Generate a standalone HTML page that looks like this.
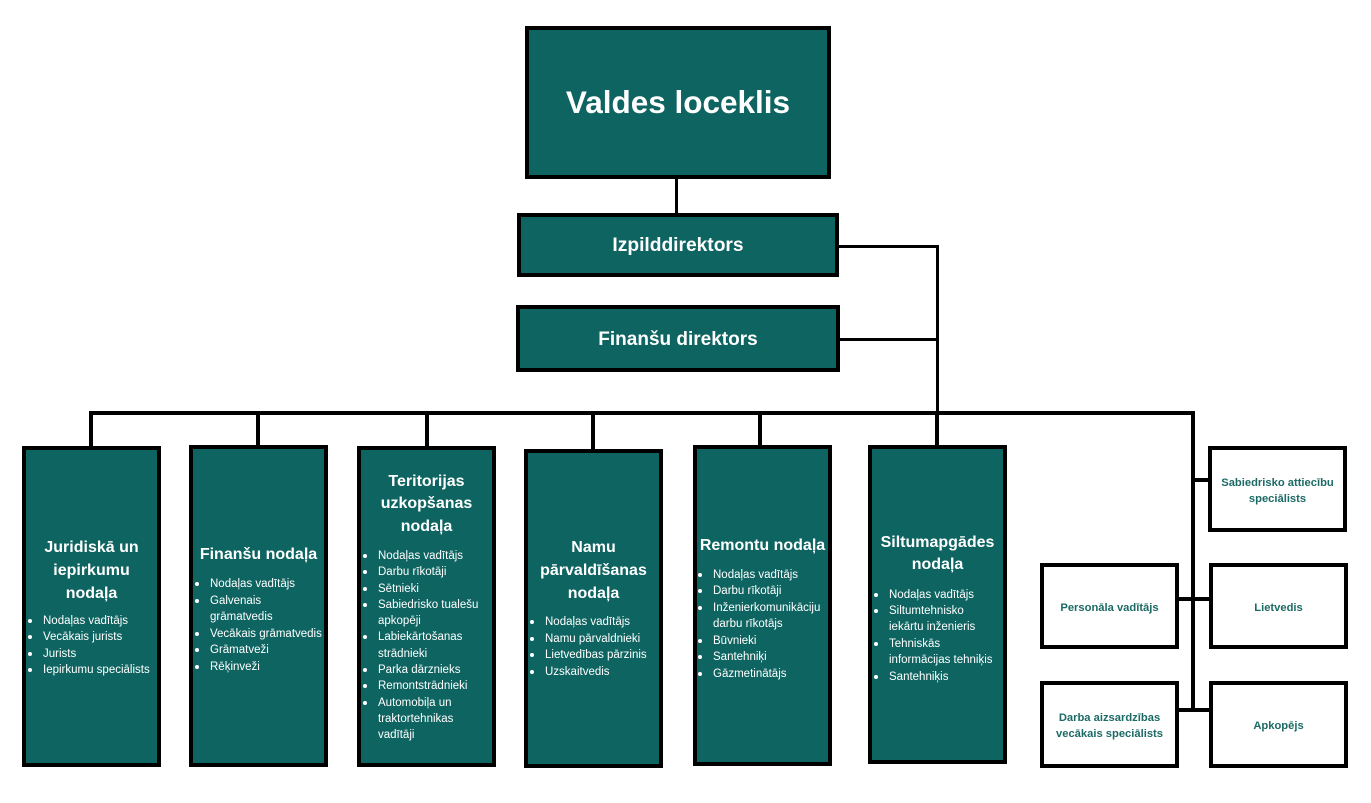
<!DOCTYPE html>
<html><head><meta charset="utf-8">
<style>
html,body{margin:0;padding:0;background:#fff;}
body{width:1371px;height:803px;position:relative;overflow:hidden;font-family:"Liberation Sans",Arial,sans-serif;}
.box{position:absolute;box-sizing:border-box;border:4px solid #000;background:#0e6461;}
.ln{position:absolute;background:#000;}
.ctr{display:flex;align-items:center;justify-content:center;text-align:center;color:#fff;font-weight:bold;white-space:nowrap;}
.t{position:absolute;left:0;right:0;text-align:center;color:#fff;font-weight:bold;font-size:16px;white-space:nowrap;}
.ul{position:absolute;left:0;right:0;color:#fff;font-size:11.5px;white-space:nowrap;}
.li{position:relative;padding-left:17px;}
.li::before{content:"";position:absolute;left:1.5px;top:6px;width:4px;height:4px;border-radius:50%;background:#fff;}
.wb{position:absolute;box-sizing:border-box;border:4px solid #000;background:#fff;display:flex;align-items:center;justify-content:center;text-align:center;color:#1c6a65;font-weight:bold;font-size:11.2px;line-height:16px;padding-top:3px;white-space:nowrap;}
</style></head><body>

<!-- connectors -->
<div class="ln" style="left:675px;top:178px;width:3px;height:37px;"></div>
<div class="ln" style="left:838px;top:245px;width:101px;height:3px;"></div>
<div class="ln" style="left:839px;top:338px;width:100px;height:3px;"></div>
<div class="ln" style="left:936px;top:245px;width:3px;height:170px;"></div>
<div class="ln" style="left:89px;top:411px;width:1106px;height:4px;"></div>
<div class="ln" style="left:89px;top:411px;width:4px;height:37px;"></div>
<div class="ln" style="left:256px;top:411px;width:4px;height:37px;"></div>
<div class="ln" style="left:425px;top:411px;width:4px;height:37px;"></div>
<div class="ln" style="left:591px;top:411px;width:4px;height:40px;"></div>
<div class="ln" style="left:758px;top:411px;width:4px;height:37px;"></div>
<div class="ln" style="left:935px;top:411px;width:4px;height:37px;"></div>
<div class="ln" style="left:1191px;top:411px;width:4px;height:301px;"></div>
<div class="ln" style="left:1193px;top:478px;width:17px;height:4px;"></div>
<div class="ln" style="left:1177px;top:597px;width:34px;height:4px;"></div>
<div class="ln" style="left:1177px;top:708px;width:34px;height:4px;"></div>

<!-- top boxes -->
<div class="box ctr" style="left:525px;top:26px;width:306px;height:153px;font-size:31.5px;">Valdes loceklis</div>
<div class="box ctr" style="left:517px;top:213px;width:322px;height:64px;font-size:19.2px;padding-top:2px;">Izpilddirektors</div>
<div class="box ctr" style="left:516px;top:305px;width:324px;height:67px;font-size:19px;padding-top:2px;">Finanšu direktors</div>

<!-- department boxes -->
<div class="box" style="left:22px;top:446px;width:139px;height:321px;">
  <div class="t" style="top:85.5px;line-height:23px;">Juridiskā un<br>iepirkumu<br>nodaļa</div>
  <div class="ul" style="top:162.5px;line-height:16.5px;">
    <div class="li">Nodaļas vadītājs</div>
    <div class="li">Vecākais jurists</div>
    <div class="li">Jurists</div>
    <div class="li">Iepirkumu speciālists</div>
  </div>
</div>

<div class="box" style="left:189px;top:445px;width:139px;height:322px;">
  <div class="t" style="top:94px;line-height:23px;">Finanšu nodaļa</div>
  <div class="ul" style="top:127px;line-height:16.6px;">
    <div class="li">Nodaļas vadītājs</div>
    <div class="li">Galvenais<br>grāmatvedis</div>
    <div class="li">Vecākais grāmatvedis</div>
    <div class="li">Grāmatveži</div>
    <div class="li">Rēķinveži</div>
  </div>
</div>

<div class="box" style="left:357px;top:446px;width:139px;height:321px;">
  <div class="t" style="top:20.75px;line-height:22.5px;">Teritorijas<br>uzkopšanas<br>nodaļa</div>
  <div class="ul" style="top:98px;line-height:16.3px;">
    <div class="li">Nodaļas vadītājs</div>
    <div class="li">Darbu rīkotāji</div>
    <div class="li">Sētnieki</div>
    <div class="li">Sabiedrisko tualešu<br>apkopēji</div>
    <div class="li">Labiekārtošanas<br>strādnieki</div>
    <div class="li">Parka dārznieks</div>
    <div class="li">Remontstrādnieki</div>
    <div class="li">Automobiļa un<br>traktortehnikas<br>vadītāji</div>
  </div>
</div>

<div class="box" style="left:524px;top:449px;width:139px;height:319px;">
  <div class="t" style="top:83px;line-height:23px;">Namu<br>pārvaldīšanas<br>nodaļa</div>
  <div class="ul" style="top:161px;line-height:16.7px;">
    <div class="li">Nodaļas vadītājs</div>
    <div class="li">Namu pārvaldnieki</div>
    <div class="li">Lietvedības pārzinis</div>
    <div class="li">Uzskaitvedis</div>
  </div>
</div>

<div class="box" style="left:693px;top:445px;width:139px;height:321px;">
  <div class="t" style="top:84.5px;line-height:23px;">Remontu nodaļa</div>
  <div class="ul" style="top:117.5px;line-height:16.5px;left:-1px;">
    <div class="li">Nodaļas vadītājs</div>
    <div class="li">Darbu rīkotāji</div>
    <div class="li">Inženierkomunikāciju<br>darbu rīkotājs</div>
    <div class="li">Būvnieki</div>
    <div class="li">Santehniķi</div>
    <div class="li">Gāzmetinātājs</div>
  </div>
</div>

<div class="box" style="left:868px;top:445px;width:139px;height:319px;">
  <div class="t" style="top:82.75px;line-height:22.5px;">Siltumapgādes<br>nodaļa</div>
  <div class="ul" style="top:137.5px;line-height:16.4px;">
    <div class="li">Nodaļas vadītājs</div>
    <div class="li">Siltumtehnisko<br>iekārtu inženieris</div>
    <div class="li">Tehniskās<br>informācijas tehniķis</div>
    <div class="li">Santehniķis</div>
  </div>
</div>

<!-- right white boxes -->
<div class="wb" style="left:1208px;top:446px;width:139px;height:86px;">Sabiedrisko attiecību<br>speciālists</div>
<div class="wb" style="left:1040px;top:563px;width:139px;height:86px;">Personāla vadītājs</div>
<div class="wb" style="left:1209px;top:563px;width:139px;height:86px;">Lietvedis</div>
<div class="wb" style="left:1040px;top:681px;width:139px;height:87px;">Darba aizsardzības<br>vecākais speciālists</div>
<div class="wb" style="left:1209px;top:681px;width:139px;height:87px;">Apkopējs</div>

</body></html>
